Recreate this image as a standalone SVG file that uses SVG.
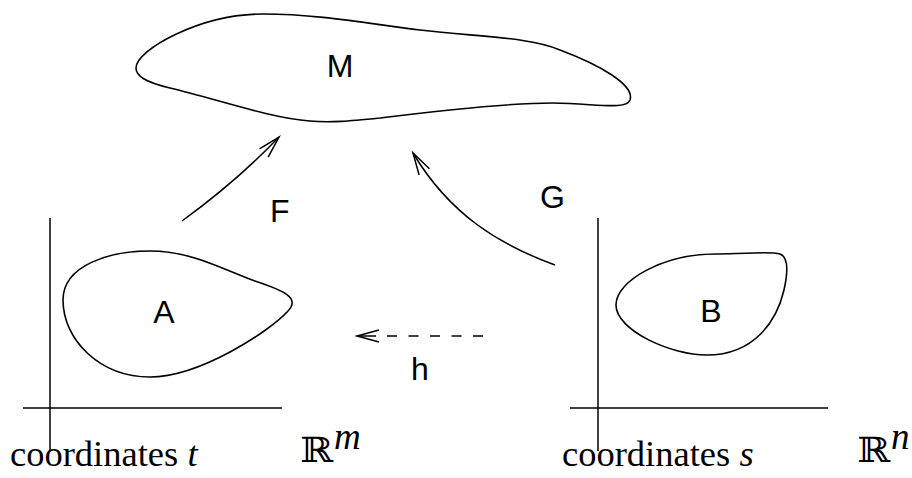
<svg xmlns="http://www.w3.org/2000/svg" width="912" height="478" viewBox="0 0 912 478">
<style>
.blob{fill:none;stroke:#000;stroke-width:1.6}
.axis{stroke:#000;stroke-width:1.5;fill:none}
.conn{fill:none;stroke:#000;stroke-width:1.5}
.dash{stroke-dasharray:10 11.5}
.lbl{font-family:"Liberation Sans",Arial,sans-serif;font-size:32px;fill:#000}
.coord{font-family:"Liberation Serif","Times New Roman",serif;font-size:36.5px;fill:#000}
.bb{font-family:"DejaVu Serif",serif;font-size:35px;fill:#000}
.sup{font-family:"Liberation Serif","Times New Roman",serif;font-style:italic;font-size:37px;fill:#000}
</style>
<defs>
<marker id="arr" markerUnits="userSpaceOnUse" markerWidth="30" markerHeight="20" viewBox="-24 -10 30 20" refX="0" refY="0" orient="auto" overflow="visible">
<path d="M-22,-6 L0,0 L-22,6" fill="none" stroke="#000" stroke-width="1.5"/>
</marker>
</defs>
<g id="axes-left">
<line class="axis" x1="50" y1="218" x2="50" y2="451"/>
<line class="axis" x1="23" y1="408" x2="282" y2="408"/>
<text class="coord" x="10" y="466">coordinates <tspan font-style="italic">t</tspan></text>
<text class="bb" x="300" y="462" textLength="33" lengthAdjust="spacingAndGlyphs">ℝ</text><text class="sup" x="334" y="449">m</text>
</g>
<g id="axes-right">
<line class="axis" x1="598" y1="218" x2="598" y2="451"/>
<line class="axis" x1="570" y1="408" x2="828" y2="408"/>
<text class="coord" x="562" y="466">coordinates <tspan font-style="italic">s</tspan></text>
<text class="bb" x="857" y="462" textLength="33" lengthAdjust="spacingAndGlyphs">ℝ</text><text class="sup" x="891" y="449">n</text>
</g>
<g id="M">
<path class="blob" d="M136,68 C136,50 200,14 263,14 C320,14 370,24 420,30 C480,37 530,37 560,50 C600,65 635,85 630,100 C626,110 600,104 553,103 C500,103 420,113 380,118 C350,121 330,123 310,121 C270,118 220,100 170,88 C145,82 136,76 136,68 Z"/>
<text class="lbl" x="340" y="77" text-anchor="middle">M</text>
</g>
<g id="A">
<path class="blob" d="M63,300 C63,265 110,251 150,251 C190,251 220,268 255,281 C285,291 300,298 288,311 C270,331 200,377 150,377 C100,377 63,340 63,300 Z"/>
<text class="lbl" x="164" y="323" text-anchor="middle">A</text>
</g>
<g id="B">
<path class="blob" d="M616,305 C616,280 665,254 715,254 C745,254 770,251 780,254 C789,257 788,272 784,290 C777,320 755,355 707,355 C670,355 616,330 616,305 Z"/>
<text class="lbl" x="711" y="322" text-anchor="middle">B</text>
</g>
<g id="connectors">
<path class="conn" d="M182,221 Q237,181 279,137" marker-end="url(#arr)"/>
<path class="conn" d="M555,265 C500,245 450,215 413,153" marker-end="url(#arr)"/>
<path class="conn dash" d="M483,336 L383,336"/>
<path class="conn" d="M376,336 L357,336" marker-end="url(#arr)"/>
<text class="lbl" x="270" y="222">F</text>
<text class="lbl" x="540" y="208">G</text>
<text class="lbl" x="420" y="380" text-anchor="middle">h</text>
</g>
</svg>
